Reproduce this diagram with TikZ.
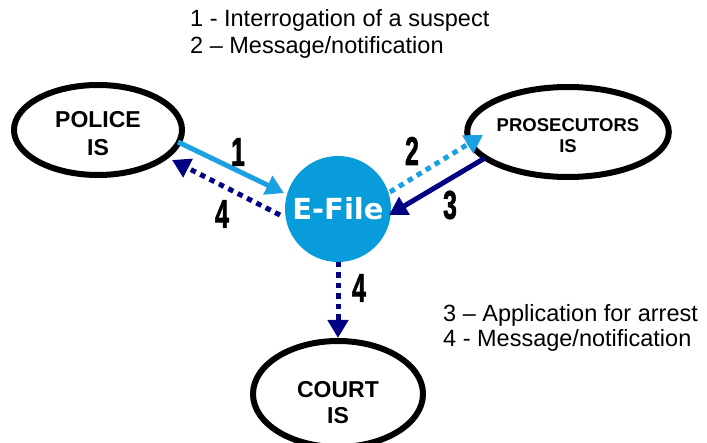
\documentclass[tikz,border=0pt]{standalone}
\usepackage{fontspec}
\setmainfont{Liberation Sans}
\newfontfamily\efilefont{DejaVu Sans}
\newfontface\numfont{Liberation Sans Bold}[FakeBold=2]
\usetikzlibrary{arrows.meta,shapes.geometric,calc}
\definecolor{lblue}{RGB}{27,161,226}
\definecolor{cblue}{RGB}{8,156,218}
\definecolor{navyb}{RGB}{0,0,128}
\begin{document}
\begin{tikzpicture}[x=1pt,y=-1pt,
  sysnode/.style={ellipse,draw=black,line width=6pt,fill=white,inner sep=0pt,
    minimum width=168pt,minimum height=90pt,font=\bfseries},
  flow/.style={line width=5pt,-{Triangle[length=18pt,width=20pt]}},
  dotflow/.style={flow,dash pattern=on 5.5pt off 5pt},
  numlbl/.style={inner sep=0pt,font=\fontsize{40}{40}\selectfont\numfont},
  legend/.style={inner sep=0pt,anchor=base west,font=\fontsize{23.5}{27}\selectfont}]
\useasboundingbox (0,0) rectangle (707,443);

\node[sysnode] (police) at (98,130)
  {\fontsize{23}{27.6}\selectfont\raisebox{-6pt}[\height][\depth]{\begin{tabular}{@{}c@{}}POLICE\\IS\end{tabular}}};
\node[sysnode] (pros) at (568,132)
  {\fontsize{18.5}{20.5}\selectfont\raisebox{-6pt}[\height][\depth]{\begin{tabular}{@{}c@{}}PROSECUTORS\\IS\end{tabular}}};
\node[sysnode,minimum width=170pt,minimum height=106pt] (court) at (338,394)
  {\fontsize{23}{26}\selectfont\raisebox{-11pt}[\height][\depth]{\begin{tabular}{@{}c@{}}COURT\\IS\end{tabular}}};
\node[circle,fill=cblue,minimum size=106pt,inner sep=0pt,text=white,
  font=\efilefont\bfseries\fontsize{29}{29}\selectfont] (efile) at (338,209) {E-File};

\draw[flow,lblue] ($(police)+(80,12)$) -- ($(efile)+(-54,-16)$);
\draw[dotflow,navyb] ($(efile)+(-58,6)$) -- ($(police)+(74,30)$);
\draw[dotflow,lblue] ($(efile)+(52,-17)$) -- ($(pros)+(-85,3)$);
\draw[flow,navyb] ($(pros)+(-83,26)$) -- ($(efile)+(51,6)$);
\draw[dotflow,navyb] ($(efile)+(0,53)$) -- ($(court)+(0,-56)$);

\node[numlbl] (n1) at (238,152) {\scalebox{0.62}[1]{1}};
\node[numlbl] (n4a) at (222,214) {\scalebox{0.62}[1]{4}};
\node[numlbl] (n2) at (412,151) {\scalebox{0.62}[1]{2}};
\node[numlbl] (n3) at (450,205) {\scalebox{0.62}[1]{3}};
\node[numlbl] (n4b) at (359,288) {\scalebox{0.62}[1]{4}};

\node[legend] (leg1) at (190,27) {1 - Interrogation of a suspect};
\node[legend] (leg2) at (190,54) {2 -- Message/notification};
\node[legend] (leg3) at (443,322) {3 -- Application for arrest};
\node[legend] (leg4) at (443,347) {4 - Message/notification};
\end{tikzpicture}
\end{document}
